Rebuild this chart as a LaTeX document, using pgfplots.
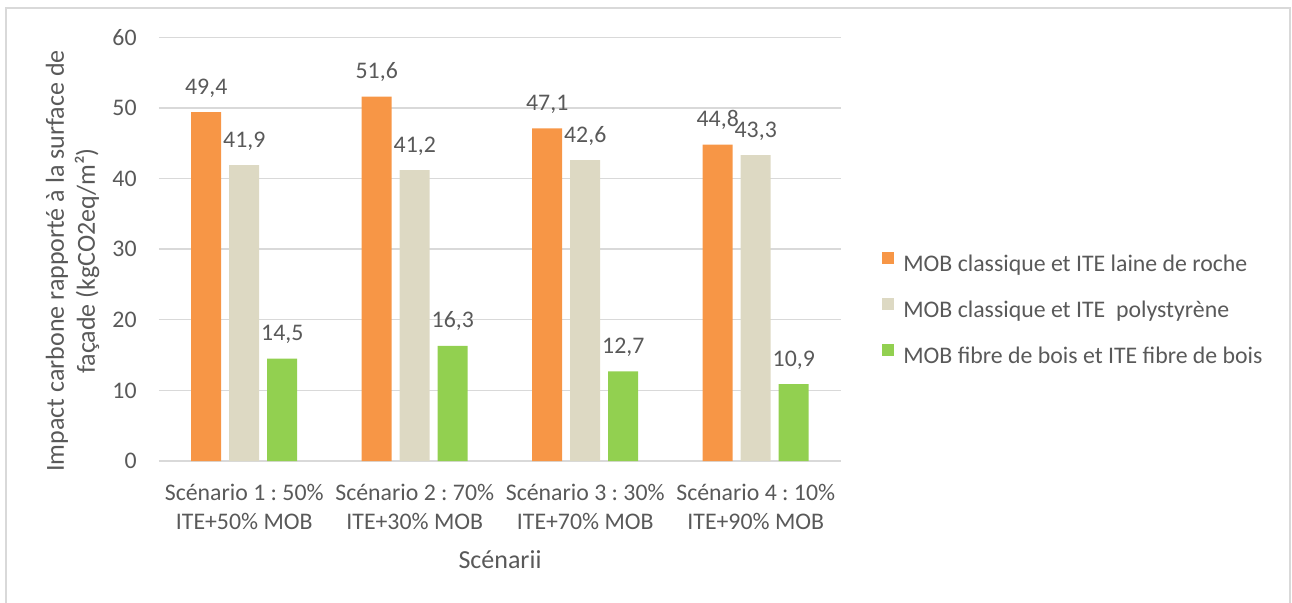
\documentclass[border=0pt]{standalone}
\usepackage{pgfplots}
\pgfplotsset{compat=1.18}
\usepackage{fontspec}
\setmainfont{Carlito}
\frenchspacing

\definecolor{cOrange}{HTML}{F79646}
\definecolor{cBeige}{HTML}{DDD9C3}
\definecolor{cGreen}{HTML}{92D050}
\definecolor{txt}{HTML}{595959}
\definecolor{grd}{HTML}{D9D9D9}

\begin{document}
\begin{tikzpicture}[text=txt]
\useasboundingbox (-79.5pt,-70.5pt) rectangle (566.5pt,230.5pt);
% chart frame
\draw[grd, line width=0.8pt] (-76.5pt,-75pt) -- (-76.5pt,226.5pt) -- (565.5pt,226.5pt) -- (565.5pt,-75pt);
\begin{axis}[
  scale only axis,
  width=341pt, height=211.85pt,
  ybar=4pt, bar width=15pt,
  xmin=-0.5, xmax=3.5,
  ymin=0, ymax=60,
  xtick={0,1,2,3},
  xticklabels={{Scénario 1 : 50\%\\ITE+50\% MOB},{Scénario 2 : 70\%\\ITE+30\% MOB},{Scénario 3 : 30\%\\ITE+70\% MOB},{Scénario 4 : 10\%\\ITE+90\% MOB}},
  ytick={0,10,...,60},
  major tick length=0pt,
  axis line style={draw=none},
  axis x line*=bottom,
  ymajorgrids, grid style={grd, line width=0.7pt},
  extra y ticks={0}, extra y tick labels={},
  extra y tick style={grid style={grd, line width=1pt}},
  /pgf/number format/assume math mode=true,
  tick label style={font=\fontsize{11.9}{14.5}\selectfont, text=txt},
  xticklabel style={align=center, inner sep=0pt, anchor=north, yshift=-11.5pt},
  yticklabel style={anchor=east, inner sep=0pt, xshift=-11pt},
  xlabel={Scénarii},
  ylabel={Impact carbone rapporté à la surface de\\façade (kgCO2eq/m²)},
  every axis x label/.style={at={(axis description cs:0.5,-0.2337)}, anchor=center, font=\fontsize{13}{15.5}\selectfont, text=txt},
  every axis y label/.style={at={(axis description cs:-0.1268,0.472)}, rotate=90, anchor=center, align=center, font=\fontsize{13}{15.5}\selectfont, text=txt},
  nodes near coords={\pgfmathprintnumber[fixed,fixed zerofill,precision=1,use comma,assume math mode=true]{\pgfplotspointmeta}},
  every node near coord/.append style={anchor=base, inner sep=0pt, yshift=9pt, font=\fontsize{11.9}{14.5}\selectfont, text=txt},
  legend image code/.code={\fill[#1] (0pt,0.8pt) rectangle (6pt,6.8pt);},
  legend cell align=left,
  legend style={at={(axis description cs:1.0601,0.357)}, anchor=west, draw=none, fill=none, inner sep=0pt, row sep=11pt,
    font=\fontsize{11.9}{14.5}\selectfont,
    nodes={inner sep=0pt, text height=8.2pt, text depth=2.3pt, text=txt},
    /tikz/every odd column/.append style={column sep=4.5pt}},
]
\addplot[fill=cOrange, draw=none] coordinates {(0,49.4) (1,51.6) (2,47.1) (3,44.8)};
\addplot[fill=cBeige, draw=none] coordinates {(0,41.9) (1,41.2) (2,42.6) (3,43.3)};
\addplot[fill=cGreen, draw=none] coordinates {(0,14.5) (1,16.3) (2,12.7) (3,10.9)};
\legend{MOB classique et ITE laine de roche, MOB classique et ITE\ \ polystyrène, MOB fibre de bois et ITE fibre de bois}
\end{axis}
\end{tikzpicture}
\end{document}
